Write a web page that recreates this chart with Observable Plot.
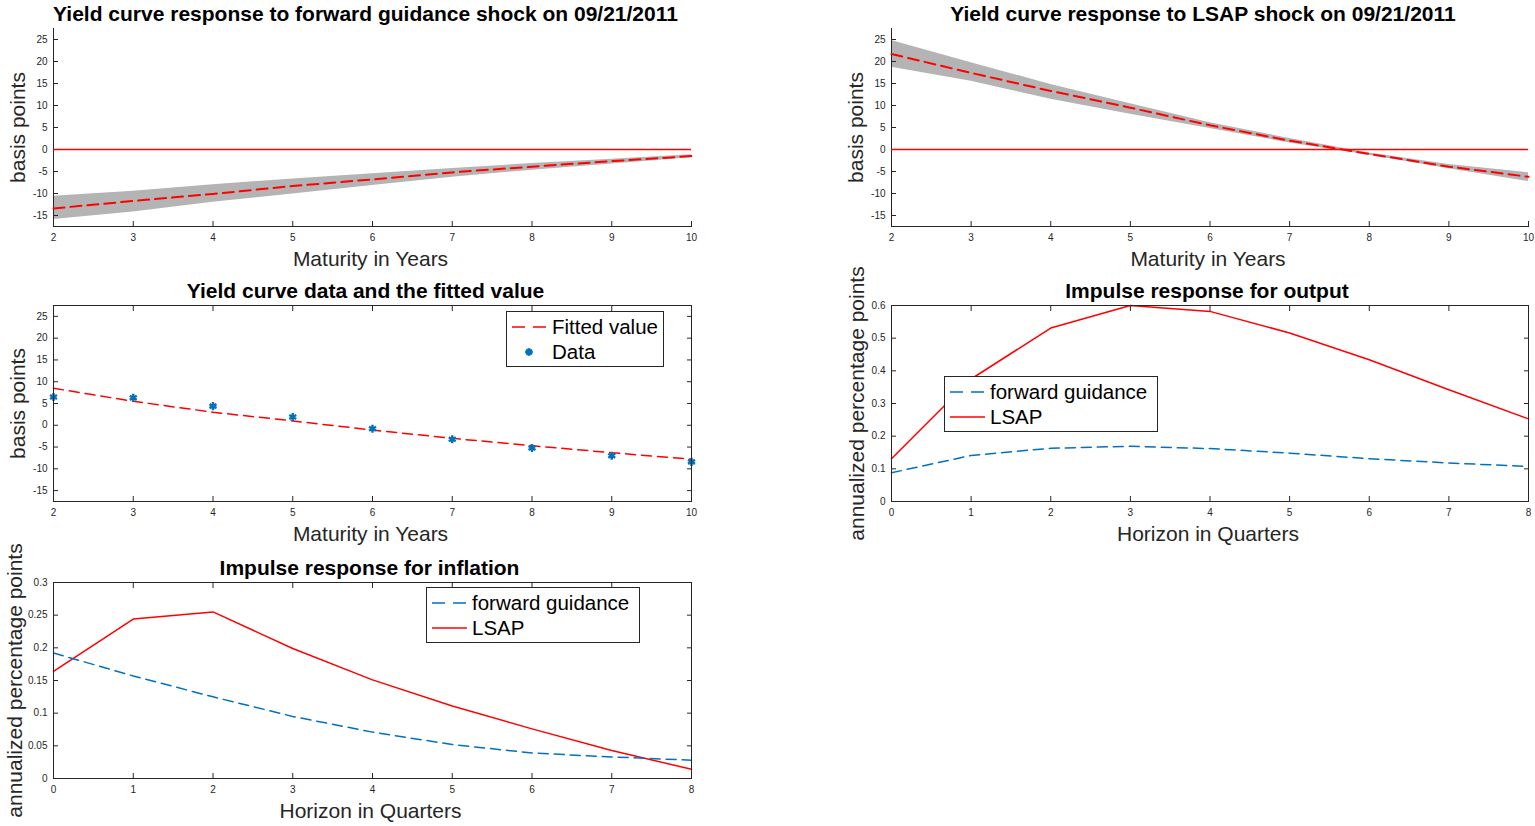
<!DOCTYPE html>
<html><head><meta charset="utf-8">
<script src="https://cdn.jsdelivr.net/npm/d3@7"></script>
<script src="https://cdn.jsdelivr.net/npm/@observablehq/plot@0.6"></script>
<style>
body{margin:0;background:#fff;}
#root{position:relative;width:1535px;height:826px;overflow:hidden;background:#fff;font-family:"Liberation Sans",Arial,sans-serif;}
.panel{position:absolute;}
.legend{position:absolute;border:1px solid #262626;background:#fff;box-sizing:border-box;}
.legend .row{position:absolute;left:0;height:24px;display:flex;align-items:center;white-space:nowrap;}
.legend .row span{font-size:20.5px;color:#000;line-height:24px;}
.legend svg{display:block;}
</style></head>
<body><div id="root"></div>
<script>
// ---------- data ----------
const maturities = [2, 3, 4, 5, 6, 7, 8, 9, 10];
const fgMean  = [-13.4, -11.7, -10.1, -8.3, -6.8, -5.2, -3.9, -2.65, -1.5];
const fgUpper = [-10.6, -9.5, -8.0, -6.7, -5.5, -4.3, -3.2, -2.2, -1.2];
const fgLower = [-15.9, -14.2, -12.0, -10.1, -8.2, -6.3, -4.7, -3.3, -1.9];
const lsapMean  = [21.7, 17.4, 13.3, 9.5, 5.5, 2.0, -1.0, -3.9, -6.2];
const lsapUpper = [24.8, 19.7, 14.8, 10.4, 6.1, 2.5, -0.8, -3.4, -5.3];
const lsapLower = [18.7, 15.5, 11.4, 8.0, 4.8, 1.5, -1.3, -4.4, -7.3];
const fittedValue = [8.5, 5.5, 3.0, 1.0, -1.1, -3.0, -4.7, -6.3, -7.8];
const yieldData   = [6.5, 6.3, 4.4, 1.9, -0.8, -3.2, -5.2, -7.0, -8.4];
const horizons = [0, 1, 2, 3, 4, 5, 6, 7, 8];
const outputFG   = [0.088, 0.141, 0.163, 0.169, 0.162, 0.148, 0.131, 0.118, 0.107];
const outputLSAP = [0.131, 0.375, 0.531, 0.600, 0.582, 0.516, 0.434, 0.342, 0.253];
const inflationFG   = [0.192, 0.157, 0.125, 0.095, 0.071, 0.052, 0.039, 0.033, 0.028];
const inflationLSAP = [0.164, 0.244, 0.255, 0.199, 0.151, 0.111, 0.076, 0.043, 0.014];
const bpDomain = [-17.5, 27.5];
const bpTicks = [-15, -10, -5, 0, 5, 10, 15, 20, 25];
const outputDomain = [0, 0.6];
const outputTicks = [0, 0.1, 0.2, 0.3, 0.4, 0.5, 0.6];
const inflationDomain = [0, 0.3];
const inflationTicks = [0, 0.05, 0.1, 0.15, 0.2, 0.25, 0.3];
const titles = [
  "Yield curve response to forward guidance shock on 09/21/2011",
  "Yield curve response to LSAP shock on 09/21/2011",
  "Yield curve data and the fitted value",
  "Impulse response for output",
  "Impulse response for inflation"
];
const labels = {maturity: "Maturity in Years", horizon: "Horizon in Quarters", bp: "basis points", app: "annualized percentage points"};
const legendLabels = {fitted: "Fitted value", data: "Data", fg: "forward guidance", lsap: "LSAP"};

// ---------- styling ----------
const RED = "#ff0000", BLUE = "#0072bd", GRAY = "#b4b4b4", AX = "#262626";
const FONT = "'Liberation Sans', Arial, sans-serif";
const root = document.getElementById("root");

function rows(xs, ys) { return xs.map((x, i) => ({x, y: ys[i]})); }
function band(xs, lo, hi) { return xs.map((x, i) => ({x, lo: lo[i], hi: hi[i]})); }
const fmt = d => String(d);

function panel({left, top, width, height, mt, mb, ml, mr, xDomain, yDomain, yTicks, boxed, title, titleDx = -5, xLabel, yLabel, yDx, marks, after = []}) {
  const xTicks = d3.range(xDomain[0], xDomain[1] + 1);
  const axes = [
    Plot.axisX({anchor: "bottom", ticks: xTicks, tickSize: -5, tickPadding: 12, tickFormat: fmt, fontSize: 10, label: null, stroke: AX}),
    Plot.axisY({anchor: "left", ticks: yTicks, tickSize: -5, tickPadding: 11, tickFormat: fmt, fontSize: 10, label: null, stroke: AX})
  ];
  if (boxed) {
    axes.push(
      Plot.axisX({anchor: "top", ticks: xTicks, tickSize: -5, tickFormat: () => "", label: null, stroke: AX}),
      Plot.axisY({anchor: "right", ticks: yTicks, tickSize: -5, tickFormat: () => "", label: null, stroke: AX}),
      Plot.frame({stroke: AX})
    );
  } else {
    axes.push(Plot.frame({anchor: "left", stroke: AX}), Plot.frame({anchor: "bottom", stroke: AX}));
  }
  const svg = Plot.plot({
    width, height, marginTop: mt, marginBottom: mb, marginLeft: ml, marginRight: mr,
    style: {overflow: "visible", fontFamily: FONT, color: AX, background: "transparent"},
    x: {domain: xDomain},
    y: {domain: yDomain},
    marks: [
      ...marks,
      ...axes,
      ...after,
      Plot.text([title], {text: d => d, frameAnchor: "top", lineAnchor: "middle", dy: -14, dx: titleDx, fontSize: 21, fontWeight: "bold", fill: "#000"}),
      Plot.text([xLabel], {text: d => d, frameAnchor: "bottom", lineAnchor: "middle", dy: 33, dx: -2, fontSize: 21, fill: AX}),
      Plot.text([yLabel], {text: d => d, frameAnchor: "left", textAnchor: "middle", lineAnchor: "middle", dx: yDx, rotate: -90, fontSize: 21, fill: AX})
    ]
  });
  const div = document.createElement("div");
  div.className = "panel";
  div.style.left = left + "px";
  div.style.top = top + "px";
  div.appendChild(svg);
  root.appendChild(div);
}

function legend({left, top, width, height, items}) {
  const box = document.createElement("div");
  box.className = "legend";
  Object.assign(box.style, {left: left + "px", top: top + "px", width: width + "px", height: height + "px"});
  items.forEach((it, i) => {
    const row = document.createElement("div");
    row.className = "row";
    row.style.top = (3 + i * 25) + "px";
    const sw = d3.create("svg").attr("width", 45).attr("height", 24);
    if (it.kind === "marker") {
      const cx = 22, cy = 12;
      [0, 45, 90, 135].forEach(a => {
        const r = 3.8, rad = a * Math.PI / 180;
        sw.append("line").attr("x1", cx - r * Math.cos(rad)).attr("y1", cy - r * Math.sin(rad))
          .attr("x2", cx + r * Math.cos(rad)).attr("y2", cy + r * Math.sin(rad))
          .attr("stroke", it.color).attr("stroke-width", 2.4);
      });
    } else {
      sw.append("line").attr("x1", 5).attr("x2", 40).attr("y1", 12).attr("y2", 12)
        .attr("stroke", it.color).attr("stroke-width", 1.5)
        .attr("stroke-dasharray", it.dash || null);
    }
    row.appendChild(sw.node());
    const sp = document.createElement("span");
    sp.textContent = it.label;
    row.appendChild(sp);
    box.appendChild(row);
  });
  root.appendChild(box);
}

// ---------- panel 1: forward guidance yield curve ----------
panel({
  left: 0, top: 0, width: 731, height: 271, mt: 28, mb: 45, ml: 53, mr: 40,
  xDomain: [2, 10], yDomain: bpDomain, yTicks: bpTicks, boxed: false, titleDx: -7,
  title: titles[0], xLabel: labels.maturity, yLabel: labels.bp, yDx: -35,
  marks: [
    Plot.areaY(band(maturities, fgLower, fgUpper), {x: "x", y1: "lo", y2: "hi", fill: GRAY})
  ],
  after: [
    Plot.ruleY([0], {stroke: RED, strokeWidth: 1.6}),
    Plot.line(rows(maturities, fgMean), {x: "x", y: "y", stroke: RED, strokeWidth: 2, strokeDasharray: "11,6"})
  ]
});

// ---------- panel 2: LSAP yield curve ----------
panel({
  left: 838, top: 0, width: 697, height: 271, mt: 28, mb: 45, ml: 53, mr: 7,
  xDomain: [2, 10], yDomain: bpDomain, yTicks: bpTicks, boxed: false, titleDx: -7,
  title: titles[1], xLabel: labels.maturity, yLabel: labels.bp, yDx: -35,
  marks: [
    Plot.areaY(band(maturities, lsapLower, lsapUpper), {x: "x", y1: "lo", y2: "hi", fill: GRAY})
  ],
  after: [
    Plot.ruleY([0], {stroke: RED, strokeWidth: 1.6}),
    Plot.line(rows(maturities, lsapMean), {x: "x", y: "y", stroke: RED, strokeWidth: 2, strokeDasharray: "11,6"})
  ]
});

// ---------- panel 3: data and fitted ----------
panel({
  left: 0, top: 277, width: 731, height: 270, mt: 28, mb: 46, ml: 53, mr: 40,
  xDomain: [2, 10], yDomain: bpDomain, yTicks: bpTicks, boxed: true, titleDx: -7,
  title: titles[2], xLabel: labels.maturity, yLabel: labels.bp, yDx: -35,
  marks: [
    Plot.line(rows(maturities, fittedValue), {x: "x", y: "y", stroke: RED, strokeWidth: 1.5, strokeDasharray: "10,6"}),
    Plot.dot(rows(maturities, yieldData), {x: "x", y: "y", symbol: "asterisk", r: 3.8, stroke: BLUE, strokeWidth: 2.4})
  ]
});
legend({left: 506, top: 311, width: 158, height: 56, items: [
  {label: legendLabels.fitted, color: RED, dash: "13,8"},
  {label: legendLabels.data, color: BLUE, kind: "marker"}
]});

// ---------- panel 4: output ----------
panel({
  left: 838, top: 277, width: 697, height: 270, mt: 28, mb: 46, ml: 53, mr: 7,
  xDomain: [0, 8], yDomain: outputDomain, yTicks: outputTicks, boxed: true, titleDx: -3,
  title: titles[3], xLabel: labels.horizon, yLabel: labels.app, yDx: -34,
  marks: [
    Plot.line(rows(horizons, outputLSAP), {x: "x", y: "y", stroke: RED, strokeWidth: 1.5}),
    Plot.line(rows(horizons, outputFG), {x: "x", y: "y", stroke: BLUE, strokeWidth: 1.5, strokeDasharray: "10,6"})
  ]
});
legend({left: 944, top: 376, width: 214, height: 56, items: [
  {label: legendLabels.fg, color: BLUE, dash: "13,8"},
  {label: legendLabels.lsap, color: RED}
]});

// ---------- panel 5: inflation ----------
panel({
  left: 0, top: 554, width: 731, height: 272, mt: 28, mb: 48, ml: 53, mr: 40,
  xDomain: [0, 8], yDomain: inflationDomain, yTicks: inflationTicks, boxed: true, titleDx: -3,
  title: titles[4], xLabel: labels.horizon, yLabel: labels.app, yDx: -38,
  marks: [
    Plot.line(rows(horizons, inflationLSAP), {x: "x", y: "y", stroke: RED, strokeWidth: 1.5}),
    Plot.line(rows(horizons, inflationFG), {x: "x", y: "y", stroke: BLUE, strokeWidth: 1.5, strokeDasharray: "10,6"})
  ]
});
legend({left: 426, top: 587, width: 214, height: 56, items: [
  {label: legendLabels.fg, color: BLUE, dash: "13,8"},
  {label: legendLabels.lsap, color: RED}
]});
</script>
</body></html>
